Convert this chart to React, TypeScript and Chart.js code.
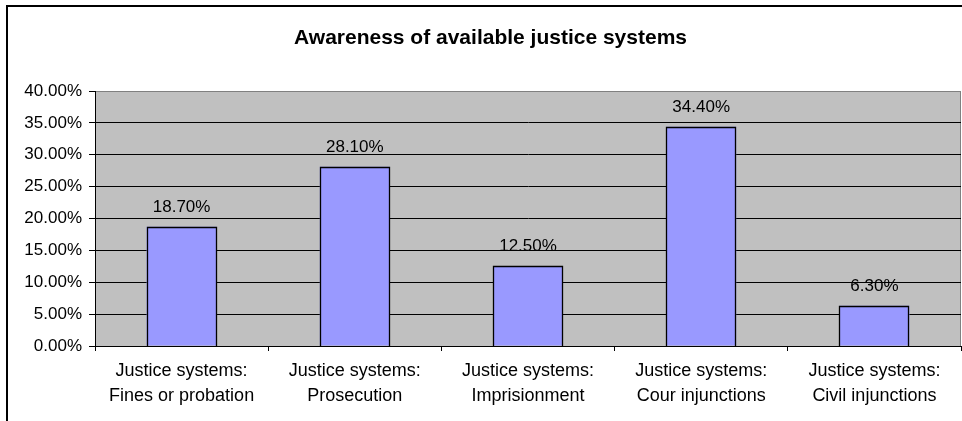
import React, { useEffect, useRef } from "react";
import { Chart, registerables } from "chart.js";

Chart.register(...registerables);

const titleText = "Awareness of available justice systems";
const categoryPrefix = "Justice systems:";
const categories = [
  "Fines or probation",
  "Prosecution",
  "Imprisionment",
  "Cour injunctions",
  "Civil injunctions",
];
const awareness = [18.7, 28.1, 12.5, 34.4, 6.3];
const yMin = 0;
const yMax = 40;
const yStep = 5;

const FONT = "'Liberation Sans', Arial, sans-serif";

export default function App() {
  const ref = useRef<HTMLCanvasElement | null>(null);

  useEffect(() => {
    if (!ref.current) return;
    const plotBg = {
      id: "plotBg",
      beforeDraw(chart: any) {
        const { ctx, chartArea: a } = chart;
        ctx.save();
        ctx.fillStyle = "#C0C0C0";
        ctx.fillRect(a.left, a.top, a.right - a.left, a.bottom - a.top);
        ctx.strokeStyle = "#808080";
        ctx.lineWidth = 1;
        ctx.strokeRect(a.left + 0.5, a.top + 0.5, a.right - a.left - 1, a.bottom - a.top);
        ctx.restore();
      },
    };
    const labelsPlugin = {
      id: "barLabels",
      afterDatasetsDraw(chart: any) {
        const { ctx } = chart;
        const meta = chart.getDatasetMeta(0);
        ctx.save();
        // crisp bar outlines
        ctx.strokeStyle = "#000";
        ctx.lineWidth = 1.3;
        meta.data.forEach((bar: any) => {
          const l = Math.round(bar.x - bar.width / 2) + 0.5;
          const r = Math.round(bar.x + bar.width / 2) - 0.5;
          const t = Math.round(bar.y) + 0.5;
          const b = Math.round(bar.base);
          ctx.beginPath();
          ctx.moveTo(l, b);
          ctx.lineTo(l, t);
          ctx.lineTo(r, t);
          ctx.lineTo(r, b);
          ctx.stroke();
        });
        ctx.font = `17px ${FONT}`;
        ctx.fillStyle = "#000";
        ctx.textAlign = "center";
        ctx.textBaseline = "alphabetic";
        meta.data.forEach((bar: any, i: number) => {
          ctx.fillText(awareness[i].toFixed(2) + "%", bar.x, bar.y - 15);
        });
        ctx.restore();
      },
    };
    const titlePlugin = {
      id: "titleDraw",
      afterDraw(chart: any) {
        const { ctx } = chart;
        ctx.save();
        ctx.font = `bold 21px ${FONT}`;
        ctx.fillStyle = "#000";
        ctx.textAlign = "center";
        ctx.textBaseline = "alphabetic";
        ctx.fillText(titleText, 490.5, 44);
        ctx.restore();
      },
    };

    const chart = new Chart(ref.current, {
      type: "bar",
      data: {
        labels: categories.map((c) => [categoryPrefix, c]),
        datasets: [
          {
            data: awareness,
            backgroundColor: "#9999FF",
            borderWidth: 0,
            categoryPercentage: 1,
            barPercentage: 0.404,
          },
        ],
      },
      options: {
        responsive: false,
        animation: false,
        devicePixelRatio: 1,
        layout: { padding: { left: 0, top: 91, right: 1, bottom: 0 } },
        plugins: {
          legend: { display: false },
          title: { display: false },
          tooltip: { enabled: false },
        },
        scales: {
          x: {
            afterFit: (s: any) => {
              s.height = 75;
            },
            grid: {
              offset: true,
              drawOnChartArea: false,
              drawTicks: true,
              tickLength: 5,
              tickColor: "#000",
            },
            border: { color: "#000", width: 1, z: 1 },
            ticks: {
              color: "#000",
              padding: 8,
              maxRotation: 0,
              autoSkip: false,
              font: { family: FONT, size: 18, lineHeight: 25 / 18 },
            },
          },
          y: {
            min: yMin,
            max: yMax,
            afterFit: (s: any) => {
              s.width = 95;
            },
            grid: {
              color: (ctx: any) => (ctx.tick && ctx.tick.value === yMax ? "#808080" : "#000"),
              tickColor: "#000",
              tickLength: 6,
              drawTicks: true,
            },
            border: { color: "#000", width: 1 },
            ticks: {
              stepSize: yStep,
              color: "#000",
              padding: 7,
              font: { family: FONT, size: 17 },
              callback: (v: any) => Number(v).toFixed(2) + "%",
            },
          },
        },
      },
      plugins: [plotBg, labelsPlugin, titlePlugin],
    });
    return () => chart.destroy();
  }, []);

  return (
    <div
      style={{
        position: "fixed",
        left: 0,
        top: 0,
        width: 962,
        height: 421,
        overflow: "hidden",
        background: "#fff",
      }}
    >
      <div
        style={{
          position: "absolute",
          left: 6,
          top: 5,
          width: 1000,
          height: 500,
          borderLeft: "2px solid #000",
          borderTop: "2px solid #000",
        }}
      />
      <canvas
        ref={ref}
        width={962}
        height={421}
        style={{ position: "absolute", left: 0, top: 0, width: 962, height: 421 }}
      />
    </div>
  );
}
